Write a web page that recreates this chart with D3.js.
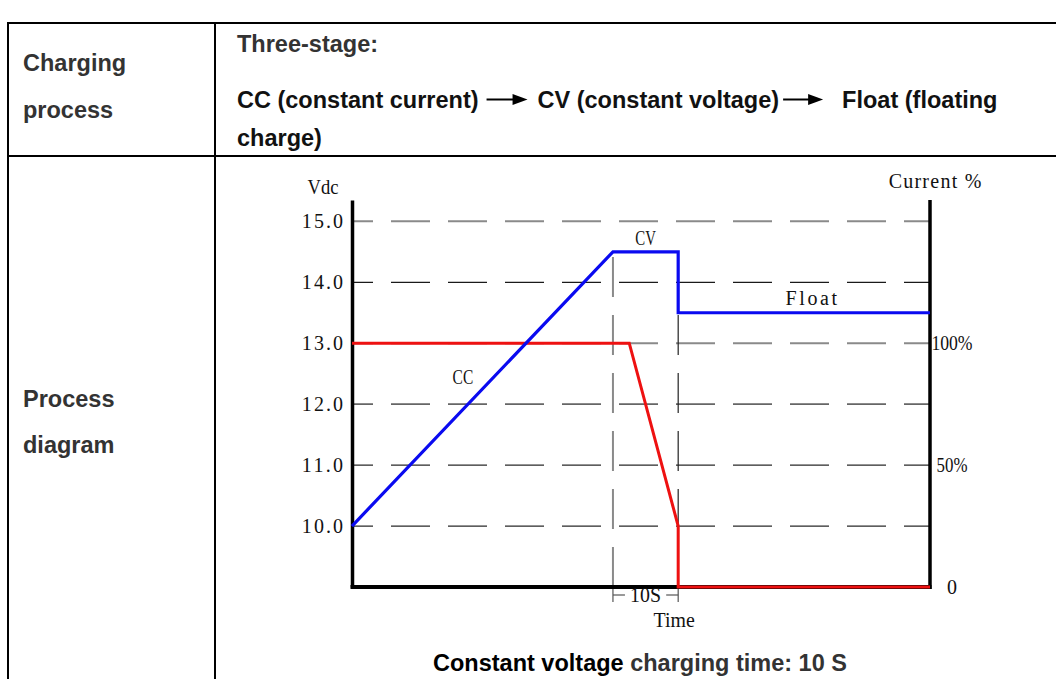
<!DOCTYPE html>
<html>
<head>
<meta charset="utf-8">
<script src="https://cdn.jsdelivr.net/npm/d3@7"></script>
<style>
  body { margin: 0; background: #fff; }
</style>
</head>
<body>
<div class="chart"></div>
<script>
// left axis, Vdc
var voltTicks = [10, 11, 12, 13, 14, 15]
// right axis, current %
var currentTicks = [0, 50, 100]
var currentLabels = ["0", "50%", "100%"]
// time in seconds
var timeEnd = 88.6
var voltTime = [0, 40, 50, 50, 88.6]
var voltValues = [10, 14.5, 14.5, 13.5, 13.5]
var currentTime = [0, 42.5, 50, 50, 88.6]
var currentValues = [100, 100, 25, 0, 0]
// constant voltage window (10 S)
var cvWindow = [40, 50]
var stageNames = ["CC", "CV", "Float"]
var stageTime = [17, 45, 70.4]
var stageVolt = [12.45, 14.73, 13.74]

var svg = d3.select(".chart")
  .append("svg")
  .attr("width", 1056)
  .attr("height", 679)

var sans = "'Liberation Sans', Arial, sans-serif"
var serif = "'Liberation Serif', 'DejaVu Serif', serif"

// ---- table frame
svg.append("line").attr("x1", 8).attr("y1", 23).attr("x2", 1056).attr("y2", 23)
  .style("stroke", "black").style("stroke-width", 2)
svg.append("line").attr("x1", 8).attr("y1", 156).attr("x2", 1056).attr("y2", 156)
  .style("stroke", "black").style("stroke-width", 2)
svg.append("line").attr("x1", 8).attr("y1", 22).attr("x2", 8).attr("y2", 679)
  .style("stroke", "black").style("stroke-width", 2)
svg.append("line").attr("x1", 215).attr("y1", 22).attr("x2", 215).attr("y2", 679)
  .style("stroke", "black").style("stroke-width", 2)

function cellText(x, y, txt, color) {
  return svg.append("text")
    .attr("x", x)
    .attr("y", y)
    .text(txt)
    .style("font-family", sans)
    .style("font-weight", "bold")
    .style("font-size", "23.5px")
    .attr("fill", color)
}

cellText(23, 71, "Charging", "#333")
cellText(23, 118, "process", "#333")
cellText(23, 407, "Process", "#333")
cellText(23, 453, "diagram", "#333")

cellText(237, 52, "Three-stage:", "#333")
cellText(237, 146, "charge)", "#111")

// line with arrows
function arrow(x1, x2, yy) {
  svg.append("line").attr("x1", x1).attr("y1", yy).attr("x2", x2 - 12).attr("y2", yy)
    .style("stroke", "black").style("stroke-width", 2)
  svg.append("path")
    .attr("d", "M" + x2 + "," + yy + "L" + (x2 - 15) + "," + (yy - 5.5) + "L" + (x2 - 15) + "," + (yy + 5.5) + "Z")
    .attr("fill", "black")
}

var rowY = 108
var t1 = cellText(237, rowY, "CC (constant current)", "#111")
var e1 = 237 + t1.node().getComputedTextLength()
arrow(e1 + 8, e1 + 49, rowY - 8.5)
var t2 = cellText(e1 + 59, rowY, "CV (constant voltage)", "#111")
var e2 = e1 + 59 + t2.node().getComputedTextLength()
arrow(e2 + 4, e2 + 44, rowY - 8.5)
cellText(e2 + 63, rowY, "Float (floating", "#111")

// caption
var cap = svg.append("text")
  .attr("x", 640)
  .attr("y", 671)
  .attr("text-anchor", "middle")
  .style("font-family", sans)
  .style("font-weight", "bold")
  .style("font-size", "23.5px")
cap.append("tspan").attr("fill", "#000").text("Constant voltage")
cap.append("tspan").attr("fill", "#333").text(" charging time: 10 S")

// ---- chart
var x = d3.scaleLinear().domain([0, timeEnd]).range([352, 930])
var y = d3.scaleLinear().domain([9, 15.35]).range([587, 200])
var yc = d3.scaleLinear().domain([0, 100]).range([y(9), y(13)])

var gridColor = { 15: "#8a8a8a", 14: "#1a1a1a", 13: "#8a8a8a", 12: "#666", 11: "#2a2a2a", 10: "#2a2a2a" }
var gridWidth = { 15: 2, 14: 1.2, 13: 2, 12: 1.6, 11: 1.2, 10: 1.2 }

voltTicks.forEach(function (v) {
  svg.append("line")
    .attr("x1", x(0))
    .attr("y1", y(v))
    .attr("x2", x(timeEnd))
    .attr("y2", y(v))
    .style("stroke", gridColor[v])
    .style("stroke-width", gridWidth[v])
    .style("stroke-dasharray", "39,18")
    .style("stroke-dashoffset", 18)
})

// vertical dashed markers for the CV window
svg.append("line")
  .attr("x1", x(cvWindow[0])).attr("y1", y(9))
  .attr("x2", x(cvWindow[0])).attr("y2", y(voltValues[1]))
  .style("stroke", "#8a8a8a").style("stroke-width", 2)
  .style("stroke-dasharray", "40,18")
svg.append("line")
  .attr("x1", x(cvWindow[1])).attr("y1", y(9))
  .attr("x2", x(cvWindow[1])).attr("y2", y(voltValues[3]))
  .style("stroke", "#222").style("stroke-width", 1.2)
  .style("stroke-dasharray", "40,18")

// 10S bracket below time axis
cvWindow.forEach(function (t) {
  svg.append("line")
    .attr("x1", x(t)).attr("y1", y(9))
    .attr("x2", x(t)).attr("y2", y(9) + 15)
    .style("stroke", "#555").style("stroke-width", 1.2)
})
svg.append("line")
  .attr("x1", x(cvWindow[0])).attr("y1", y(9) + 8)
  .attr("x2", x(cvWindow[0]) + 12).attr("y2", y(9) + 8)
  .style("stroke", "#555").style("stroke-width", 1.2)
svg.append("line")
  .attr("x1", x(cvWindow[1]) - 12).attr("y1", y(9) + 8)
  .attr("x2", x(cvWindow[1])).attr("y2", y(9) + 8)
  .style("stroke", "#555").style("stroke-width", 1.2)

// axes
var yAxis = d3.axisLeft(y)
  .tickValues(voltTicks)
  .tickSize(0)
  .tickSizeOuter(0)
  .tickPadding(9)
  .tickFormat(d3.format(".1f"))

var gy = svg.append("g")
  .attr("transform", "translate(" + x(0) + ",0)")
  .call(yAxis)
gy.select(".domain").style("stroke", "black").style("stroke-width", 3.5)

svg.append("line")
  .attr("x1", x(0) - 1.5).attr("y1", y(9))
  .attr("x2", x(timeEnd) + 1.5).attr("y2", y(9))
  .style("stroke", "black").style("stroke-width", 4)

svg.append("line")
  .attr("x1", x(timeEnd)).attr("y1", y.range()[1])
  .attr("x2", x(timeEnd)).attr("y2", y(9) + 2)
  .style("stroke", "black").style("stroke-width", 3.5)

// current curve (red)
var redLine = d3.line()
  .x(function (d, i) { return x(currentTime[i]) })
  .y(function (d) { return yc(d) })
svg.append("path")
  .attr("d", redLine(currentValues))
  .attr("fill", "none")
  .style("stroke", "#ee1111")
  .style("stroke-width", 3)

// voltage curve (blue)
var blueLine = d3.line()
  .x(function (d, i) { return x(voltTime[i]) })
  .y(function (d) { return y(d) })
svg.append("path")
  .attr("d", blueLine(voltValues))
  .attr("fill", "none")
  .style("stroke", "#0a0af0")
  .style("stroke-width", 3.2)

currentTicks.forEach(function (c, i) {
  svg.append("text")
    .attr("class", "lab")
    .attr("x", x(timeEnd) + 22)
    .attr("y", yc(c))
    .attr("dy", "0.35em")
    .attr("text-anchor", "middle")
    .text(currentLabels[i])
})

svg.append("text").attr("class", "lab")
  .attr("x", 323).attr("y", 194)
  .attr("text-anchor", "middle")
  .text("Vdc")

svg.append("text").attr("class", "lab")
  .attr("x", 935).attr("y", 188)
  .attr("text-anchor", "middle")
  .text("Current %")

svg.append("text").attr("class", "lab")
  .attr("x", d3.mean(cvWindow.map(x))).attr("y", y(9) + 8)
  .attr("dy", "0.35em")
  .attr("text-anchor", "middle")
  .text("10S")

svg.append("text").attr("class", "lab")
  .attr("x", x(cvWindow[1]) - 4).attr("y", y(9) + 40)
  .attr("text-anchor", "middle")
  .text("Time")

stageNames.forEach(function (s, i) {
  svg.append("text").attr("class", "lab")
    .attr("x", x(stageTime[i]))
    .attr("y", y(stageVolt[i]))
    .attr("dy", "0.35em")
    .attr("text-anchor", "middle")
    .text(s)
})

// serif labels, spaced like the half-width CJK font of the original
svg.selectAll(".lab, .tick text")
  .style("font-family", serif)
  .style("font-size", "20px")
  .attr("fill", "#111")
  .each(function () {
    var t = d3.select(this)
    var want = t.text().length * 10.3
    var have = this.getComputedTextLength()
    t.attr("textLength", want)
      .attr("lengthAdjust", have > want ? "spacingAndGlyphs" : "spacing")
  })
</script>
</body>
</html>
